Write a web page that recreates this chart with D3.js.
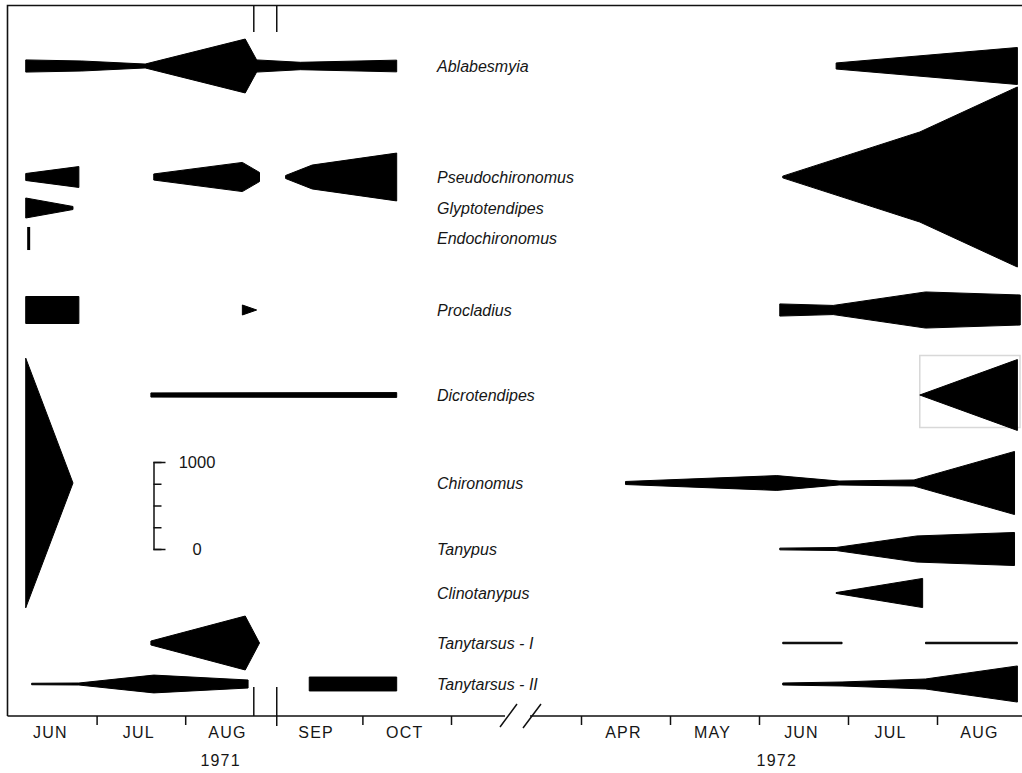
<!DOCTYPE html>
<html>
<head>
<meta charset="utf-8">
<script src="https://cdn.jsdelivr.net/npm/d3@7"></script>
<style>
  body { margin: 0; background: #fff; }
  svg { display: block; }
  .sp { font-family: "Liberation Sans", Arial, sans-serif; font-style: italic; font-size: 16px; fill: #161616; }
  .ax { font-family: "Liberation Sans", Arial, sans-serif; font-size: 16px; fill: #161616; letter-spacing: 1.2px; }
  .sc { font-family: "Liberation Sans", Arial, sans-serif; font-size: 16.5px; fill: #161616; }
</style>
</head>
<body>
<svg id="chart" width="1022" height="773"></svg>
<script>
// Taxa, top to bottom
const species = ["Ablabesmyia", "Pseudochironomus", "Glyptotendipes", "Endochironomus",
  "Procladius", "Dicrotendipes", "Chironomus", "Tanypus", "Clinotanypus",
  "Tanytarsus - I", "Tanytarsus - II"];

// Larval density (no. per m²) by sampling date; each inner array is one continuous run
const ablabesmyia = [
  [["1971-06-07", 140], ["1971-06-26", 115], ["1971-07-18", 45], ["1971-08-22", 620],
   ["1971-08-26", 140], ["1971-09-10", 85], ["1971-10-13", 135]],
  [["1972-06-27", 70], ["1972-08-29", 425]]
];
const pseudochironomus = [
  [["1971-06-07", 80], ["1971-06-25", 240]],
  [["1971-07-21", 70], ["1971-08-21", 335], ["1971-08-27", 105]],
  [["1971-09-05", 35], ["1971-09-14", 275], ["1971-10-13", 550]],
  [["1972-06-09", 20], ["1972-07-26", 1035], ["1972-08-29", 2070]]
];
const glyptotendipes = [
  [["1971-06-07", 230], ["1971-06-23", 35]]
];
const endochironomus = [
  [["1971-06-08", 265]]
];
const procladius = [
  [["1971-06-07", 310], ["1971-06-25", 310]],
  [["1971-08-21", 115], ["1971-08-26", 0]],
  [["1972-06-08", 140], ["1972-06-26", 105], ["1972-07-28", 415], ["1972-08-30", 345]]
];
const dicrotendipes = [
  [["1971-07-20", 48], ["1971-10-13", 55]],
  [["1972-07-26", 0], ["1972-08-29", 815]]
];
const chironomus = [
  [["1971-06-07", 2870], ["1971-06-23", 0]],
  [["1972-04-16", 35], ["1972-06-07", 170], ["1972-06-28", 45], ["1972-07-24", 70], ["1972-08-28", 725]]
];
const tanypus = [
  [["1972-06-08", 20], ["1972-06-27", 35], ["1972-07-25", 300], ["1972-08-28", 380]]
];
const clinotanypus = [
  [["1972-06-27", 10], ["1972-07-27", 335]]
];
const tanytarsus1 = [
  [["1971-07-20", 45], ["1971-08-22", 620], ["1971-08-27", 0]],
  [["1972-06-09", 17], ["1972-06-29", 17]],
  [["1972-07-28", 17], ["1972-08-29", 17]]
];
const tanytarsus2 = [
  [["1971-06-09", 17], ["1971-06-25", 23], ["1971-07-21", 205], ["1971-08-23", 92]],
  [["1971-09-13", 160], ["1971-10-13", 160]],
  [["1972-06-09", 23], ["1972-06-29", 46], ["1972-07-28", 115], ["1972-08-29", 415]]
];

const runs = [ablabesmyia, pseudochironomus, glyptotendipes, endochironomus, procladius,
  dicrotendipes, chironomus, tanypus, clinotanypus, tanytarsus1, tanytarsus2];

// Axis text
const months1971 = ["JUN", "JUL", "AUG", "SEP", "OCT"];
const months1972 = ["APR", "MAY", "JUN", "JUL", "AUG"];
const years = ["1971", "1972"];
const scaleTicks = [0, 250, 500, 750, 1000];
const scaleLabels = [0, 1000];

// ---- layout ----
const rowY = [66, 177, 208, 238.5, 310, 395, 483, 549, 593, 643, 684];
const labelX = 437;
const axisY = 716;

// months counted from 1 June 1971
function monthsFrom(s) {
  const [y, m, d] = s.split("-").map(Number);
  const dim = new Date(y, m, 0).getDate();
  return (y - 1971) * 12 + (m - 6) + (d - 1) / dim;
}

// broken time axis: Jun–Oct 1971, gap, Apr–Aug 1972
const x = d3.scaleLinear().domain([0, 5, 10, 15]).range([8, 451, 581, 1026]);
// kite full width for a density value
const w = d3.scaleLinear().domain([0, 1000]).range([0, 87]);

const svg = d3.select("#chart");

// frame: left and top rules
svg.append("path")
  .attr("d", `M7.5,${axisY}V5.5H1022`)
  .attr("fill", "none").attr("stroke", "#111").attr("stroke-width", 1.6);

// bottom axis line with a break
const breakL = 505, breakR = 530;
svg.append("path")
  .attr("d", `M7.5,${axisY}H${breakL}M${breakR},${axisY}H1022`)
  .attr("fill", "none").attr("stroke", "#111").attr("stroke-width", 1.6);
svg.append("path")
  .attr("d", `M500,727L517,704M523,728L541,704`)
  .attr("fill", "none").attr("stroke", "#111").attr("stroke-width", 1.5);

// month ticks
const tickVals = [1, 2, 4, 5, 10, 11, 12, 13, 14];
const axisG = svg.append("g")
  .attr("transform", `translate(0,${axisY})`)
  .call(d3.axisBottom(x).tickValues(tickVals).tickSize(9).tickFormat(""));
axisG.select(".domain").remove();
axisG.selectAll(".tick line").attr("stroke", "#111").attr("stroke-width", 1.5);

// sampling break at the end of August 1971
const gapA = x(monthsFrom("1971-08-25")), gapB = x(monthsFrom("1971-09-02"));
svg.append("path")
  .attr("d", `M${gapA},5V32M${gapB},5V32M${gapA},687V${axisY}M${gapB},687V${axisY + 10}`)
  .attr("fill", "none").attr("stroke", "#111").attr("stroke-width", 1.5);

// month labels
const monthCenters = months1971.map((m, i) => ({ m, t: i + 0.5 }))
  .concat(months1972.map((m, i) => ({ m, t: 10 + i + 0.5 })));
svg.append("g").selectAll("text").data(monthCenters).join("text")
  .attr("class", "ax")
  .attr("x", d => x(d.t) - 2)
  .attr("y", 738)
  .attr("text-anchor", "middle")
  .text(d => d.m);

// year labels
const yearPos = [2.4, 12.2];
svg.append("g").selectAll("text").data(years).join("text")
  .attr("class", "ax")
  .attr("x", (d, i) => x(yearPos[i]))
  .attr("y", 766)
  .attr("text-anchor", "middle")
  .text(d => d);

// light paste-up frame around the 1972 Dicrotendipes kite
svg.append("rect")
  .attr("x", x(monthsFrom("1972-07-26"))).attr("y", 355.5)
  .attr("width", 1020 - x(monthsFrom("1972-07-26"))).attr("height", 72)
  .attr("fill", "none").attr("stroke", "#d8d8d8").attr("stroke-width", 1.5);

// kites
const area = cy => d3.area()
  .x(d => x(monthsFrom(d[0])))
  .y0(d => cy - w(d[1]) / 2)
  .y1(d => cy + w(d[1]) / 2);

const kites = svg.append("g");
runs.forEach((sp, i) => {
  const cy = rowY[i];
  sp.forEach(run => {
    if (run.length === 1) {
      const d = run[0];
      kites.append("rect")
        .attr("x", x(monthsFrom(d[0])) - 1.5).attr("y", cy - w(d[1]) / 2)
        .attr("width", 3).attr("height", w(d[1]))
        .attr("fill", "#000");
    } else {
      kites.append("path")
        .datum(run)
        .attr("d", area(cy))
        .attr("fill", "#000")
        .attr("stroke", "#000")
        .attr("stroke-width", 1)
        .attr("stroke-linejoin", "round");
    }
  });
});

// species names
svg.append("g").selectAll("text").data(species).join("text")
  .attr("class", "sp")
  .attr("x", labelX)
  .attr("y", (d, i) => rowY[i])
  .attr("dy", "0.36em")
  .text(d => d);

// density scale bar
const sy = d3.scaleLinear().domain([0, 1000]).range([549, 549 - w(1000)]);
const scaleG = svg.append("g")
  .attr("transform", "translate(153.5,0)")
  .call(d3.axisRight(sy).tickValues(scaleTicks).tickSizeInner(8).tickSizeOuter(12).tickFormat(""));
scaleG.selectAll("path, line").attr("stroke", "#111").attr("stroke-width", 1.5);
svg.append("g").selectAll("text").data(scaleLabels).join("text")
  .attr("class", "sc")
  .attr("x", 197)
  .attr("y", d => sy(d))
  .attr("dy", "0.36em")
  .attr("text-anchor", "middle")
  .text(d => d);
</script>
</body>
</html>
